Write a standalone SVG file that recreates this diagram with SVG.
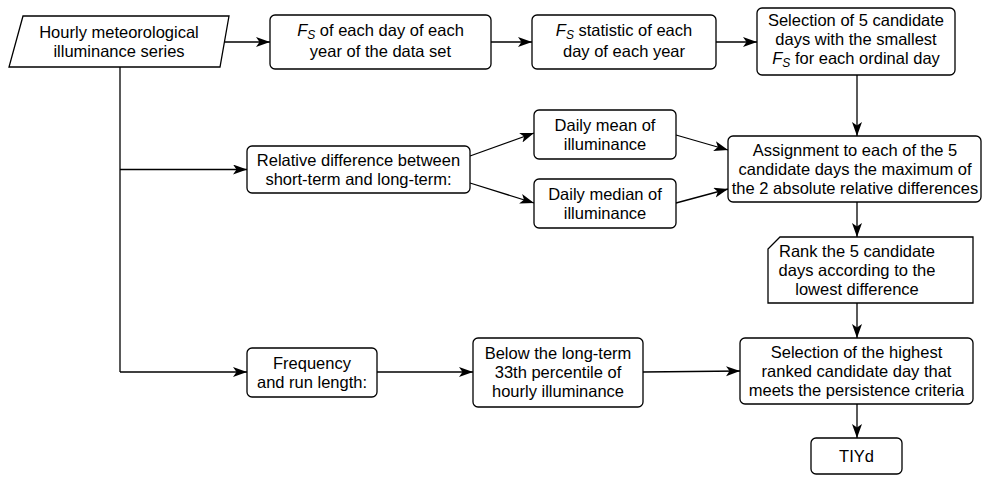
<svg xmlns="http://www.w3.org/2000/svg" width="984" height="477" viewBox="0 0 984 477">
<defs>
<marker id="arr" markerUnits="userSpaceOnUse" markerWidth="15" markerHeight="11" refX="14" refY="5" orient="auto">
<path d="M0,0 L14,5 L0,10 L3.5,5 z" fill="#000"/>
</marker>
<style>
.n{fill:#fff;stroke:#000;stroke-width:1.3}
.t{font-family:"Liberation Sans",Arial,sans-serif;font-size:16.5px;fill:#000;text-anchor:middle}
.c{fill:none;stroke:#000;stroke-width:1.3}
.a{marker-end:url(#arr)}
.i{font-style:italic}
.s{font-style:italic;font-size:12px}
</style>
</defs>
<rect width="984" height="477" fill="#fff"/>
<g id="connectors">
<path class="c a" d="M224.5,42 H270"/>
<path class="c a" d="M491,42 H532"/>
<path class="c a" d="M716,42 H757"/>
<path class="c a" d="M857,75 V136"/>
<path class="c" d="M120,67 V372"/>
<path class="c a" d="M120,169.5 H247"/>
<path class="c a" d="M120,372 H247"/>
<path class="c a" d="M470,156 L534,133"/>
<path class="c a" d="M470,183 L534,203"/>
<path class="c a" d="M676,135 L728,150"/>
<path class="c a" d="M676,203 L728,189"/>
<path class="c a" d="M857,202 V237"/>
<path class="c a" d="M857,303 V338"/>
<path class="c a" d="M377,372 H473"/>
<path class="c a" d="M643,372 L740,371"/>
<path class="c a" d="M857,404 V438"/>
</g>
<g id="input">
<path class="n" d="M23,16 H229 L220,67 H9 Z"/>
<text class="t" x="119"><tspan x="119" y="38">Hourly meteorological</tspan><tspan x="119" y="57">illuminance series</tspan></text>
</g>
<g id="fs-each-day">
<rect class="n" x="270" y="15" width="221" height="54" rx="5"/>
<text class="t"><tspan x="380.5" y="36"><tspan class="i">F</tspan><tspan class="s" dy="3">S</tspan><tspan dy="-3"> of each day of each</tspan></tspan><tspan x="380.5" y="57">year of the data set</tspan></text>
</g>
<g id="fs-statistic">
<rect class="n" x="532" y="15" width="184" height="54" rx="5"/>
<text class="t"><tspan x="624" y="36"><tspan class="i">F</tspan><tspan class="s" dy="3">S</tspan><tspan dy="-3"> statistic of each</tspan></tspan><tspan x="624" y="57">day of each year</tspan></text>
</g>
<g id="selection-candidates">
<rect class="n" x="757" y="8" width="198" height="67" rx="5"/>
<text class="t"><tspan x="856" y="26">Selection of 5 candidate</tspan><tspan x="856" y="45">days with the smallest</tspan><tspan x="856" y="64"><tspan class="i">F</tspan><tspan class="s" dy="3">S</tspan><tspan dy="-3"> for each ordinal day</tspan></tspan></text>
</g>
<g id="relative-difference">
<rect class="n" x="247" y="146" width="223" height="47" rx="5"/>
<text class="t"><tspan x="358.5" y="165.5">Relative difference between</tspan><tspan x="358.5" y="184.5">short-term and long-term:</tspan></text>
</g>
<g id="daily-mean">
<rect class="n" x="534" y="110" width="142" height="49" rx="5"/>
<text class="t"><tspan x="605" y="130.5">Daily mean of</tspan><tspan x="605" y="149.5">illuminance</tspan></text>
</g>
<g id="daily-median">
<rect class="n" x="534" y="179" width="142" height="49" rx="5"/>
<text class="t"><tspan x="605" y="199.5">Daily median of</tspan><tspan x="605" y="218.5">illuminance</tspan></text>
</g>
<g id="assignment">
<rect class="n" x="728" y="136" width="253" height="66" rx="5"/>
<text class="t"><tspan x="855" y="156">Assignment to each of the 5</tspan><tspan x="855" y="175">candidate days the maximum of</tspan><tspan x="855" y="194">the 2 absolute relative differences</tspan></text>
</g>
<g id="rank">
<path class="n" d="M780,237 H973 V303 H768 V249 Z"/>
<text class="t"><tspan x="857" y="257">Rank the 5 candidate</tspan><tspan x="857" y="276">days according to the</tspan><tspan x="857" y="295">lowest difference</tspan></text>
</g>
<g id="frequency">
<rect class="n" x="247" y="348" width="130" height="49" rx="5"/>
<text class="t"><tspan x="312" y="368.5">Frequency</tspan><tspan x="312" y="387.5">and run length:</tspan></text>
</g>
<g id="below-percentile">
<rect class="n" x="473" y="338" width="170" height="69" rx="5"/>
<text class="t"><tspan x="558" y="358.5">Below the long-term</tspan><tspan x="558" y="377.5">33th percentile of</tspan><tspan x="558" y="396.5">hourly illuminance</tspan></text>
</g>
<g id="selection-highest">
<rect class="n" x="740" y="338" width="233" height="66" rx="5"/>
<text class="t"><tspan x="856.5" y="358">Selection of the highest</tspan><tspan x="856.5" y="377">ranked candidate day that</tspan><tspan x="856.5" y="396">meets the persistence criteria</tspan></text>
</g>
<g id="tiyd">
<rect class="n" x="811" y="438" width="91" height="36" rx="5"/>
<text class="t" x="856.5" y="461.5">TIYd</text>
</g>
</svg>
